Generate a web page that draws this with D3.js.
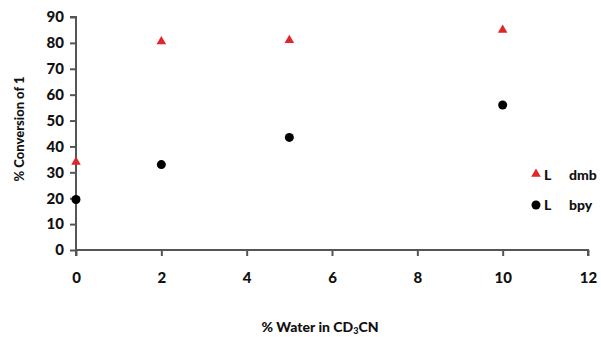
<!DOCTYPE html>
<html>
<head>
<meta charset="utf-8">
<script src="https://cdn.jsdelivr.net/npm/d3@7"></script>
<style>
  body { margin: 0; background: #fff; }
  text { font-family: Lato, "Open Sans", sans-serif; font-weight: 900; fill: #111; }
</style>
</head>
<body>
<script>
// data
const water = [0, 2, 5, 10]
const dmbConv = [34, 80.5, 81, 85]
const bpyConv = [19.5, 33, 43.5, 56]
const xTicks = [0, 2, 4, 6, 8, 10, 12]
const yTicks = [0, 10, 20, 30, 40, 50, 60, 70, 80, 90]
const seriesLabels = ['dmb', 'bpy']

let width = 601, height = 337

var svg = d3.select('body').append('svg')
    .attr('width', width)
    .attr('height', height)

var x = d3.scaleLinear().domain([0, 12]).range([76, 588])
var y = d3.scaleLinear().domain([0, 90]).range([250, 17])

// y axis
var yAxis = svg.append('g')
    .attr('class', 'yax')
    .attr('transform', 'translate(' + x(0) + ',0)')
    .call(d3.axisLeft(y).tickValues(yTicks).tickSize(6).tickPadding(6))
yAxis.selectAll('text').style('font-size', '15px')
yAxis.select('.domain').attr('d', 'M-6,' + y(90) + 'H0V' + y(0))

// x axis
var xAxis = svg.append('g')
    .attr('transform', 'translate(0,' + y(0) + ')')
    .call(d3.axisBottom(x).tickValues(xTicks).tickSize(6).tickPadding(16))
xAxis.selectAll('text').style('font-size', '15px')
xAxis.select('.domain').attr('d', 'M' + x(0) + ',6V0H' + x(12) + 'V6')

svg.selectAll('.domain, .tick line')
    .attr('stroke', '#555')
    .attr('stroke-width', 2)

// axis titles
svg.append('text')
    .attr('x', 320).attr('y', 332)
    .attr('text-anchor', 'middle')
    .style('font-size', '14px')
    .html('% Water in CD<tspan dy="2" font-size="9">3</tspan><tspan dy="-2">CN</tspan>')

svg.append('text')
    .attr('transform', 'translate(24,129) rotate(-90)')
    .attr('text-anchor', 'middle')
    .style('font-size', '13px')
    .text('% Conversion of 1')

// points
svg.selectAll('.dmb')
    .data(water)
    .enter()
    .append('path')
    .attr('class', 'dmb')
    .attr('d', d3.symbol().type(d3.symbolTriangle).size(40))
    .attr('transform', (d, i) => 'translate(' + x(d) + ',' + y(dmbConv[i]) + ')')
    .style('fill', '#e0262a')

svg.selectAll('.bpy')
    .data(water)
    .enter()
    .append('circle')
    .attr('class', 'bpy')
    .attr('cx', d => x(d))
    .attr('cy', (d, i) => y(bpyConv[i]))
    .attr('r', 4.5)
    .style('fill', '#000')

// legend
var leg = svg.append('g')
seriesLabels.forEach(function(s, i) {
    var ly = 176 + i * 30
    if (i == 0) {
        leg.append('path')
            .attr('d', d3.symbol().type(d3.symbolTriangle).size(40))
            .attr('transform', 'translate(536,' + (ly - 2) + ')')
            .style('fill', '#e0262a')
    } else {
        leg.append('circle').attr('cx', 536).attr('cy', ly - 1).attr('r', 4.5).style('fill', '#000')
    }
    leg.append('text').attr('x', 544).attr('y', ly + 4).style('font-size', '14px').text('L')
    leg.append('text').attr('x', 569).attr('y', ly + 4).style('font-size', '14px').text(s)
})
</script>
</body>
</html>
